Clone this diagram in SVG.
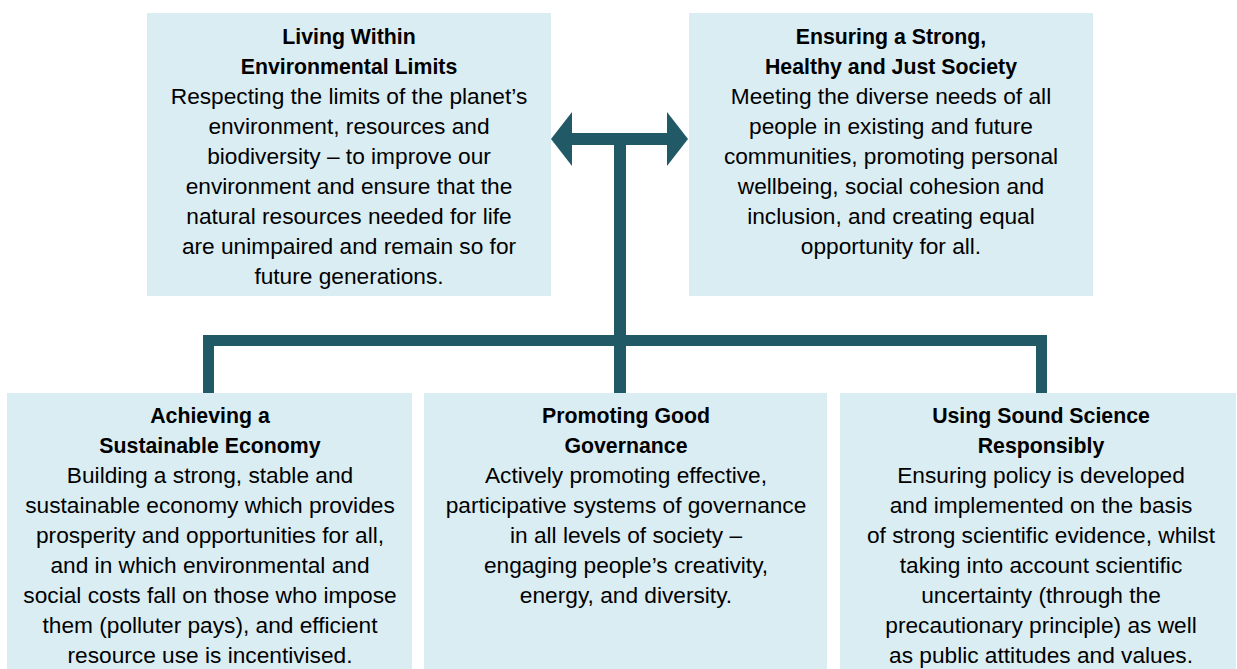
<svg xmlns="http://www.w3.org/2000/svg" width="1237" height="669" viewBox="0 0 1237 669">
<style>
.box{fill:#DAEDF3;}
.conn{fill:#215967;}
text{font-family:"Liberation Sans",Arial,sans-serif;font-size:22.7px;fill:#000;text-anchor:middle;}
.t{font-weight:bold;font-size:21.3px;}
</style>
<rect width="1237" height="669" fill="#fff"/>
<g id="connectors">
<rect class="conn" x="203" y="335" width="844" height="11"/>
<rect class="conn" x="203" y="335" width="11" height="58"/>
<rect class="conn" x="614" y="139" width="12" height="254"/>
<rect class="conn" x="1036" y="335" width="11" height="58"/>
<rect class="conn" x="570" y="133" width="99" height="12"/>
<polygon class="conn" points="551,139 572,112 572,166"/>
<polygon class="conn" points="688,139 667,112 667,166"/>
</g>
<g id="node-environment">
<rect class="box" x="147" y="13" width="404" height="283"/>
<text x="349" y="44" class="t">Living Within</text>
<text x="349" y="74" class="t">Environmental Limits</text>
<text x="349" y="104">Respecting the limits of the planet’s</text>
<text x="349" y="134">environment, resources and</text>
<text x="349" y="164">biodiversity – to improve our</text>
<text x="349" y="194">environment and ensure that the</text>
<text x="349" y="224">natural resources needed for life</text>
<text x="349" y="254">are unimpaired and remain so for</text>
<text x="349" y="284">future generations.</text>
</g>
<g id="node-society">
<rect class="box" x="689" y="13" width="404" height="283"/>
<text x="891" y="44" class="t">Ensuring a Strong,</text>
<text x="891" y="74" class="t">Healthy and Just Society</text>
<text x="891" y="104">Meeting the diverse needs of all</text>
<text x="891" y="134">people in existing and future</text>
<text x="891" y="164">communities, promoting personal</text>
<text x="891" y="194">wellbeing, social cohesion and</text>
<text x="891" y="224">inclusion, and creating equal</text>
<text x="891" y="254">opportunity for all.</text>
</g>
<g id="node-economy">
<rect class="box" x="7" y="393" width="405" height="276"/>
<text x="210" y="423" class="t">Achieving a</text>
<text x="210" y="453" class="t">Sustainable Economy</text>
<text x="210" y="483">Building a strong, stable and</text>
<text x="210" y="513">sustainable economy which provides</text>
<text x="210" y="543">prosperity and opportunities for all,</text>
<text x="210" y="573">and in which environmental and</text>
<text x="210" y="603">social costs fall on those who impose</text>
<text x="210" y="633">them (polluter pays), and efficient</text>
<text x="210" y="663">resource use is incentivised.</text>
</g>
<g id="node-governance">
<rect class="box" x="424" y="393" width="403" height="276"/>
<text x="626" y="423" class="t">Promoting Good</text>
<text x="626" y="453" class="t">Governance</text>
<text x="626" y="483">Actively promoting effective,</text>
<text x="626" y="513">participative systems of governance</text>
<text x="626" y="543">in all levels of society –</text>
<text x="626" y="573">engaging people’s creativity,</text>
<text x="626" y="603">energy, and diversity.</text>
</g>
<g id="node-science">
<rect class="box" x="840" y="393" width="396" height="276"/>
<text x="1041" y="423" class="t">Using Sound Science</text>
<text x="1041" y="453" class="t">Responsibly</text>
<text x="1041" y="483">Ensuring policy is developed</text>
<text x="1041" y="513">and implemented on the basis</text>
<text x="1041" y="543">of strong scientific evidence, whilst</text>
<text x="1041" y="573">taking into account scientific</text>
<text x="1041" y="603">uncertainty (through the</text>
<text x="1041" y="633">precautionary principle) as well</text>
<text x="1041" y="663">as public attitudes and values.</text>
</g>
</svg>
